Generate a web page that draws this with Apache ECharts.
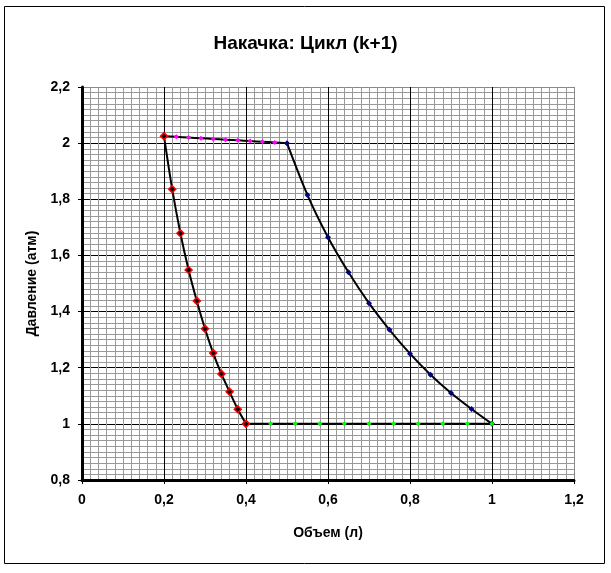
<!DOCTYPE html>
<html>
<head>
<meta charset="utf-8">
<script src="https://cdn.jsdelivr.net/npm/echarts@6/dist/echarts.min.js"></script>
<style>
  html, body { margin: 0; padding: 0; background: #fff; }
  #chart { width: 611px; height: 573px; }
</style>
</head>
<body>
<div id="chart"></div>
<script>
// верхняя линия (нагнетание)
var topX = [0.2, 0.23, 0.26, 0.29, 0.32, 0.35, 0.38, 0.41, 0.44, 0.47, 0.5];
var topY = [2.025, 2.0225, 2.02, 2.0175, 2.015, 2.0125, 2.01, 2.0075, 2.005, 2.0025, 2.0];
// расширение
var expX = [0.5, 0.55, 0.6, 0.65, 0.7, 0.75, 0.8, 0.85, 0.9, 0.95, 1.0];
var expY = [2.0, 1.815, 1.665, 1.54, 1.43, 1.335, 1.25, 1.175, 1.11, 1.053, 1.0];
// всасывание
var lowX = [1.0, 0.94, 0.88, 0.82, 0.76, 0.7, 0.64, 0.58, 0.52, 0.46, 0.4];
var lowY = [1.0, 1.0, 1.0, 1.0, 1.0, 1.0, 1.0, 1.0, 1.0, 1.0, 1.0];
// сжатие
var cmpX = [0.4, 0.38, 0.36, 0.34, 0.32, 0.3, 0.28, 0.26, 0.24, 0.22, 0.2];
var cmpY = [1.0, 1.052, 1.114, 1.178, 1.252, 1.339, 1.438, 1.548, 1.679, 1.836, 2.025];

var xTicks = [0, 0.2, 0.4, 0.6, 0.8, 1, 1.2];
var yTicks = [0.8, 1, 1.2, 1.4, 1.6, 1.8, 2, 2.2];

function pairs(xs, ys) {
    return xs.map(function (x, i) { return [x, ys[i]]; });
}
function comma(v) {
    return String(Math.round(v * 10) / 10).replace('.', ',');
}

var font = 'Liberation Sans, Arial, sans-serif';
var myChart = echarts.init(document.getElementById('chart'));

function seg(data, color, symbol, size, border) {
    return {
        type: 'line',
        data: data,
        smooth: 0.3,
        symbol: symbol,
        symbolSize: size,
        showAllSymbol: true,
        lineStyle: { color: '#000', width: 2 },
        itemStyle: { color: color, borderColor: border || color, borderWidth: border ? 1.5 : 0 },
        z: 3
    };
}

myChart.setOption({
    animation: false,
    backgroundColor: '#fff',
    title: {
        text: 'Накачка: Цикл (k+1)',
        left: 'center',
        top: 29,
        textStyle: { fontFamily: font, fontSize: 19, fontWeight: 'bold', color: '#000' }
    },
    graphic: [{
        type: 'rect',
        shape: { x: 4.5, y: 6.5, width: 600, height: 557 },
        style: { fill: 'none', stroke: '#000', lineWidth: 1 },
        silent: true
    }],
    grid: { left: 82, right: 37, top: 87, bottom: 93 },
    xAxis: {
        type: 'value',
        min: xTicks[0],
        max: xTicks[xTicks.length - 1],
        interval: 0.2,
        name: 'Объем (л)',
        nameLocation: 'middle',
        nameGap: 46,
        nameTextStyle: { fontFamily: font, fontSize: 14, fontWeight: 'bold', color: '#000' },
        axisLine: { show: true, onZero: false, lineStyle: { color: '#000', width: 3 } },
        axisTick: { show: true, length: 4, lineStyle: { color: '#000', width: 1 } },
        axisLabel: {
            fontFamily: font, fontSize: 14, fontWeight: 'bold', color: '#000', margin: 13,
            formatter: comma
        },
        splitLine: { show: true, lineStyle: { color: ['#000', '#000', '#000', '#000', '#000', '#000', '#888'], width: 1 } },
        minorTick: { show: false, splitNumber: 10 },
        minorSplitLine: { show: true, lineStyle: { color: '#999', width: 1 } }
    },
    yAxis: {
        type: 'value',
        min: 0.8,
        max: yTicks[yTicks.length - 1],
        interval: 0.2,
        name: 'Давление (атм)',
        nameLocation: 'middle',
        nameGap: 43,
        nameTextStyle: { fontFamily: font, fontSize: 14, fontWeight: 'bold', color: '#000' },
        axisLine: { show: true, onZero: false, lineStyle: { color: '#000', width: 3 } },
        axisTick: { show: true, length: 4, lineStyle: { color: '#000', width: 1 } },
        axisLabel: {
            fontFamily: font, fontSize: 14, fontWeight: 'bold', color: '#000', margin: 12,
            formatter: comma
        },
        splitLine: { show: true, lineStyle: { color: ['#000', '#000', '#000', '#000', '#000', '#000', '#000', '#888'], width: 1 } },
        minorTick: { show: false, splitNumber: 10 },
        minorSplitLine: { show: true, lineStyle: { color: '#999', width: 1 } }
    },
    series: [
        seg(pairs(topX, topY), '#ff00ff', 'diamond', 5),
        seg(pairs(expX, expY), '#000080', 'diamond', 6),
        seg(pairs(lowX, lowY), '#00ff00', 'diamond', 5),
        seg(pairs(cmpX, cmpY), '#000', 'diamond', 7, '#ff0000')
    ]
});
</script>
</body>
</html>
